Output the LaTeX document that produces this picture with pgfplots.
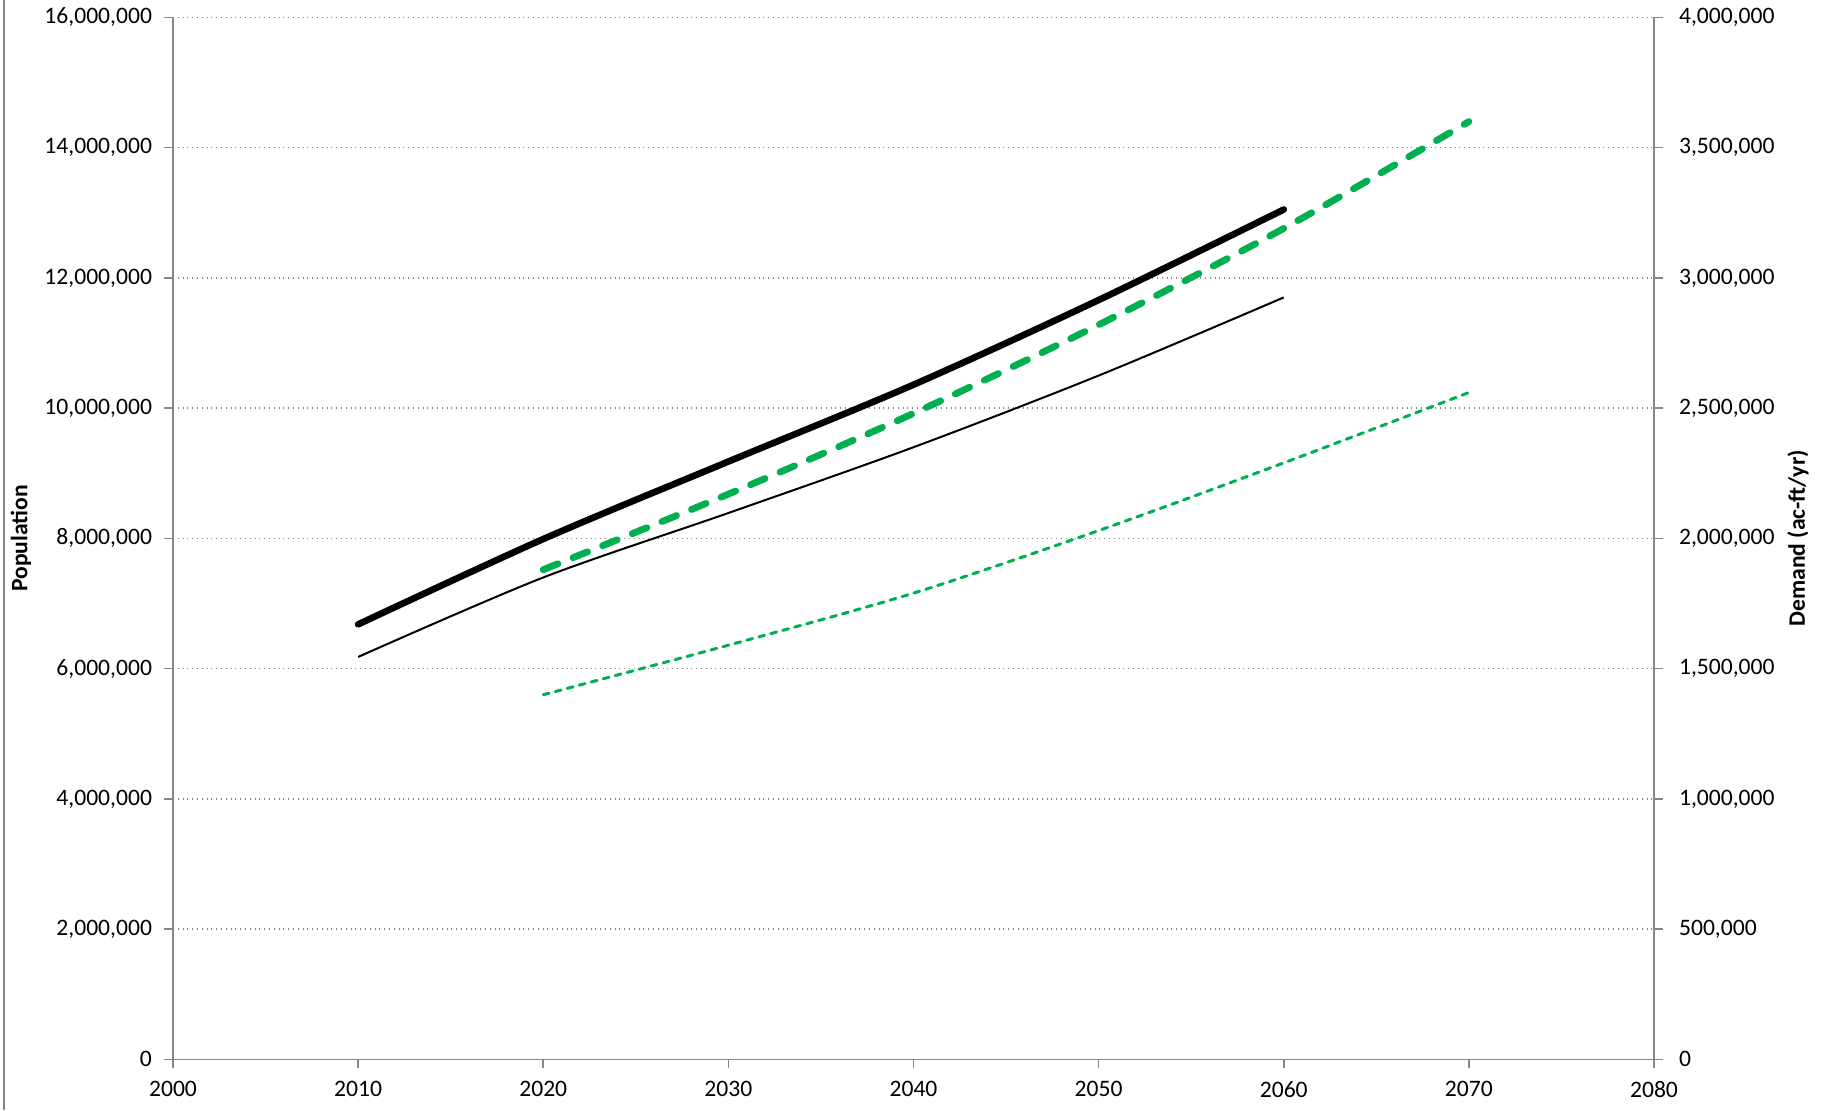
\documentclass[border=0pt]{standalone}
\usepackage{pgfplots}
\pgfplotsset{compat=1.18}
\usepackage{fontspec}
\setmainfont{Carlito}

\definecolor{axgray}{RGB}{134,134,134}
\definecolor{xlgreen}{RGB}{0,176,80}

\pgfplotsset{
  base/.style={
    width=740.5pt, height=521pt, scale only axis,
    at={(0,0)}, anchor=south west,
    xmin=2000, xmax=2080,
    font=\fontsize{11.8}{14}\selectfont,
    tick align=outside, major tick length=4.5pt,
    tick style={axgray, line width=0.75pt},
    axis line style={-, axgray, line width=0.75pt},
    every outer x axis line/.append style={-},
    every outer y axis line/.append style={-},
    scaled y ticks=false,
    /pgf/number format/assume math mode=true,
    yticklabel style={/pgf/number format/fixed, /pgf/number format/1000 sep={,}},
  },
}

\begin{document}
\begin{tikzpicture}
\useasboundingbox (-86.5pt,-25.5pt) rectangle (825pt,529.7pt);
\draw[axgray, line width=0.75pt] (-84.5pt,-25.5pt) -- (-84.5pt,529.7pt);

%% population, left axis
\begin{axis}[base,
  axis x line*=bottom, axis y line*=left,
  ymin=0, ymax=16000000, ytick distance=2000000,
  xtick={2000,2010,...,2080},
  xticklabel style={/pgf/number format/1000 sep={}, yshift=-3pt},
  yticklabel style={xshift=-2.5pt},
  ymajorgrids, grid style={dotted, axgray, line width=0.75pt},
  ylabel={\bfseries Population},
  every axis y label/.style={at={(axis description cs:0,0.5)}, xshift=-76pt, rotate=90, anchor=center},
]
\addplot[black, line width=3.3pt, line cap=round, smooth] coordinates {
  (2010,6680000) (2020,7990000) (2030,9180000) (2040,10360000) (2050,11660000) (2060,13050000)};
\addplot[black, line width=1pt, smooth] coordinates {
  (2010,6180000) (2020,7400000) (2030,8390000) (2040,9400000) (2050,10500000) (2060,11700000)};
\end{axis}

%% demand, right axis
\begin{axis}[base,
  axis x line=none, axis y line*=right,
  ymin=0, ymax=4000000, ytick distance=500000,
  yticklabel style={xshift=4.5pt},
  ylabel={\bfseries Demand (ac-ft/yr)},
  every axis y label/.style={at={(axis description cs:1,0.5)}, xshift=72pt, rotate=90, anchor=center},
]
\addplot[xlgreen, line width=3.4pt, line cap=round, dash pattern=on 7.9pt off 8.1pt, smooth] coordinates {
  (2020,1880000) (2030,2170000) (2040,2480000) (2050,2820000) (2060,3190000) (2070,3600000)};
\addplot[xlgreen, line width=1.5pt, line cap=round, dash pattern=on 3pt off 3.2pt, smooth] coordinates {
  (2020,1400000) (2030,1590000) (2040,1790000) (2050,2030000) (2060,2290000) (2070,2560000)};
\end{axis}
\end{tikzpicture}
\end{document}
